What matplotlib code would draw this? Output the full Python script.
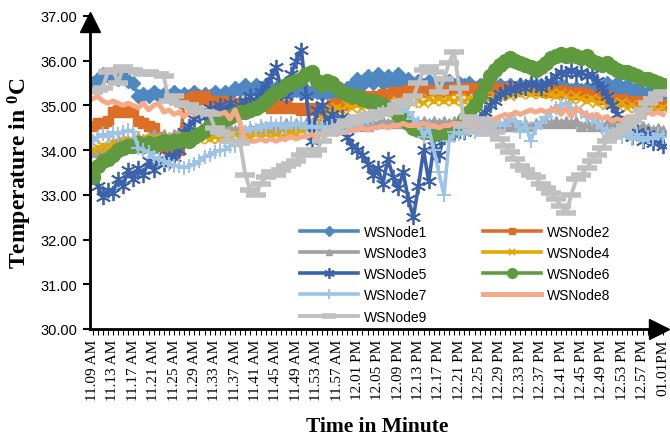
import matplotlib
matplotlib.use("Agg")
import matplotlib.pyplot as plt
from matplotlib.transforms import ScaledTranslation

# one reading per minute, 11.09 AM .. 01.01 PM
tick_labels = ["11.09 AM", "11.13 AM", "11.17 AM", "11.21 AM", "11.25 AM",
               "11.29 AM", "11.33 AM", "11.37 AM", "11.41 AM", "11.45 AM",
               "11.49 AM", "11.53 AM", "11.57 AM", "12.01 PM", "12.05 PM",
               "12.09 PM", "12.13 PM", "12.17 PM", "12.21 PM", "12.25 PM",
               "12.29 PM", "12.33 PM", "12.37 PM", "12.41 PM", "12.45 PM",
               "12.49 PM", "12.53 PM", "12.57 PM", "01.01PM"]

node1 = [35.50, 35.60, 35.70, 35.65, 35.70, 35.60, 35.70, 35.55,
         35.50, 35.20, 35.25, 35.20, 35.30, 35.20, 35.25, 35.20,
         35.30, 35.20, 35.25, 35.20, 35.30, 35.20, 35.25, 35.20,
         35.30, 35.20, 35.30, 35.25, 35.40, 35.35, 35.45, 35.35,
         35.45, 35.35, 35.45, 35.35, 35.40, 35.30, 35.40, 35.30,
         35.35, 35.30, 35.35, 35.30, 35.30, 35.25, 35.30, 35.25,
         35.30, 35.35, 35.40, 35.45, 35.60, 35.45, 35.65, 35.50,
         35.70, 35.50, 35.65, 35.45, 35.70, 35.50, 35.60, 35.45,
         35.55, 35.45, 35.55, 35.45, 35.50, 35.45, 35.55, 35.45,
         35.50, 35.45, 35.50, 35.40, 35.45, 35.40, 35.45, 35.40,
         35.45, 35.40, 35.45, 35.40, 35.45, 35.40, 35.45, 35.40,
         35.45, 35.40, 35.45, 35.40, 35.45, 35.40, 35.35, 35.40,
         35.35, 35.40, 35.35, 35.45, 35.30, 35.50, 35.35, 35.50,
         35.30, 35.45, 35.30, 35.40, 35.25, 35.30, 35.20, 35.25,
         35.20]

node2 = [34.55, 34.60, 34.60, 34.65, 34.85, 34.90, 34.85, 34.90,
         34.85, 34.65, 34.60, 34.55, 34.50, 34.30, 34.05, 33.95,
         33.90, 34.00, 35.05, 35.15, 35.20, 35.15, 35.20, 35.10,
         35.10, 35.05, 35.10, 35.05, 35.00, 35.05, 35.00, 35.05,
         35.00, 35.05, 35.00, 34.95, 35.00, 34.95, 35.00, 34.95,
         34.95, 34.90, 34.95, 34.90, 34.95, 34.90, 34.95, 35.00,
         35.05, 35.00, 35.05, 35.10, 35.10, 35.15, 35.20, 35.15,
         35.20, 35.25, 35.25, 35.30, 35.30, 35.30, 35.35, 35.30,
         35.35, 35.30, 35.35, 35.35, 35.30, 35.35, 35.35, 35.40,
         35.40, 35.35, 35.40, 35.40, 35.35, 35.40, 35.35, 35.40,
         35.40, 35.35, 35.40, 35.35, 35.40, 35.40, 35.35, 35.35,
         35.35, 35.30, 35.35, 35.30, 35.35, 35.30, 35.30, 35.25,
         35.30, 35.25, 35.20, 35.20, 35.15, 35.20, 35.15, 35.10,
         35.15, 35.10, 35.10, 35.05, 35.10, 35.05, 35.00, 35.05,
         35.00]

node3 = [33.95, 34.00, 34.05, 34.10, 34.15, 34.20, 34.25, 34.20,
         34.25, 34.30, 34.25, 34.30, 34.35, 34.30, 34.35, 34.30,
         34.35, 34.40, 34.35, 34.40, 34.45, 34.40, 34.45, 34.40,
         34.45, 34.50, 34.45, 34.50, 34.45, 34.50, 34.45, 34.50,
         34.50, 34.55, 34.50, 34.55, 34.50, 34.55, 34.60, 34.55,
         34.60, 34.55, 34.60, 34.55, 34.60, 34.55, 34.60, 34.55,
         34.60, 34.55, 34.60, 34.60, 34.55, 34.60, 34.55, 34.60,
         34.60, 34.65, 34.60, 34.65, 34.60, 34.65, 34.60, 34.65,
         34.60, 34.65, 34.60, 34.65, 34.60, 34.65, 34.60, 34.65,
         34.60, 34.65, 34.60, 34.60, 34.55, 34.60, 34.55, 34.60,
         34.55, 34.60, 34.55, 34.60, 34.55, 34.60, 34.55, 34.60,
         34.60, 34.65, 34.60, 34.65, 34.60, 34.65, 34.60, 34.65,
         34.55, 34.60, 34.55, 34.60, 34.55, 34.60, 34.60, 34.60,
         34.55, 34.50, 34.55, 34.50, 34.55, 34.50, 34.45, 34.50,
         34.45]

node4 = [34.00, 34.05, 34.10, 34.05, 34.15, 34.10, 34.20, 34.15,
         34.20, 34.15, 34.25, 34.20, 34.25, 34.20, 34.25, 34.20,
         34.25, 34.20, 34.30, 34.25, 34.30, 34.25, 34.30, 34.25,
         34.30, 34.25, 34.30, 34.25, 34.35, 34.30, 34.35, 34.30,
         34.35, 34.30, 34.35, 34.30, 34.35, 34.30, 34.35, 34.40,
         34.35, 34.45, 34.50, 34.55, 34.60, 34.70, 34.85, 34.90,
         34.95, 34.90, 35.00, 34.95, 35.00, 34.95, 35.05, 35.00,
         35.05, 35.00, 35.05, 35.00, 35.10, 35.05, 35.10, 35.05,
         35.10, 35.05, 35.15, 35.10, 35.15, 35.10, 35.15, 35.10,
         35.15, 35.10, 35.15, 35.10, 35.15, 35.20, 35.15, 35.20,
         35.20, 35.25, 35.20, 35.30, 35.25, 35.30, 35.25, 35.30,
         35.25, 35.30, 35.25, 35.20, 35.25, 35.20, 35.15, 35.20,
         35.15, 35.10, 35.15, 35.05, 35.10, 35.00, 35.05, 35.00,
         35.05, 34.95, 35.00, 34.95, 35.00, 34.90, 34.95, 34.90,
         34.95]

node5 = [33.50, 33.20, 32.95, 33.10, 33.05, 33.35, 33.20, 33.55,
         33.35, 33.60, 33.45, 33.75, 33.55, 33.80, 33.70, 33.90,
         33.85, 34.00, 34.40, 34.55, 34.70, 34.85, 34.75, 34.95,
         34.80, 35.00, 34.85, 35.05, 34.85, 35.00, 35.10, 35.20,
         35.10, 35.30, 35.45, 35.65, 35.85, 35.40, 35.20, 35.70,
         36.00, 36.25, 35.20, 34.20, 34.90, 35.00, 34.60, 34.80,
         34.55, 34.75, 34.30, 34.10, 34.00, 33.90, 33.70, 33.45,
         33.60, 33.25, 33.80, 33.40, 33.15, 33.50, 32.90, 32.50,
         33.20, 34.00, 33.30, 34.10, 33.90, 34.30, 34.40, 34.35,
         34.45, 34.40, 34.55, 34.50, 34.70, 34.85, 35.00, 35.10,
         35.25, 35.30, 35.40, 35.35, 35.45, 35.40, 35.50, 35.45,
         35.40, 35.50, 35.55, 35.65, 35.75, 35.70, 35.80, 35.70,
         35.75, 35.65, 35.70, 35.55, 35.40, 35.20, 35.00, 34.80,
         34.60, 34.45, 34.30, 34.40, 34.20, 34.35, 34.15, 34.25,
         34.10]

node6 = [33.40, 33.65, 33.75, 33.80, 33.90, 34.00, 34.05, 34.10,
         34.10, 34.15, 34.10, 34.15, 34.10, 34.15, 34.20, 34.15,
         34.20, 34.20, 34.25, 34.20, 34.30, 34.35, 34.45, 34.55,
         34.60, 34.65, 34.70, 34.75, 34.80, 34.85, 34.85, 34.90,
         34.95, 35.00, 35.10, 35.20, 35.30, 35.35, 35.45, 35.50,
         35.55, 35.60, 35.70, 35.75, 35.55, 35.45, 35.55, 35.50,
         35.40, 35.30, 35.25, 35.20, 35.20, 35.15, 35.10, 35.10,
         35.05, 35.00, 34.95, 34.90, 34.80, 34.70, 34.60, 34.50,
         34.45, 34.40, 34.40, 34.35, 34.40, 34.35, 34.40, 34.45,
         34.55, 34.70, 34.85, 35.00, 35.20, 35.45, 35.65, 35.80,
         35.90, 36.00, 36.05, 36.00, 35.95, 35.90, 35.85, 35.80,
         35.85, 35.95, 36.05, 36.10, 36.15, 36.10, 36.15, 36.10,
         36.05, 36.10, 36.00, 35.95, 35.90, 35.95, 35.85, 35.80,
         35.75, 35.75, 35.70, 35.65, 35.60, 35.60, 35.55, 35.50,
         35.45]

node7 = [34.20, 34.30, 34.35, 34.30, 34.40, 34.35, 34.40, 34.45,
         34.40, 34.05, 34.00, 33.95, 33.85, 33.80, 33.75, 33.70,
         33.65, 33.65, 33.60, 33.65, 33.70, 33.75, 33.85, 33.90,
         33.95, 34.00, 34.00, 34.10, 34.10, 34.20, 34.40, 34.50,
         34.45, 34.55, 34.50, 34.60, 34.55, 34.60, 34.50, 34.60,
         34.55, 34.60, 34.50, 34.55, 34.50, 34.55, 34.50, 34.55,
         34.50, 34.55, 34.60, 34.55, 34.65, 34.60, 34.70, 34.75,
         34.80, 34.85, 34.90, 34.95, 35.00, 34.95, 34.85, 34.70,
         34.60, 34.30, 34.50, 34.00, 33.50, 33.00, 34.20, 34.40,
         34.35, 34.40, 34.45, 34.40, 34.50, 34.45, 34.50, 34.55,
         34.60, 34.55, 34.70, 34.65, 34.40, 34.60, 34.20, 34.50,
         34.60, 34.75, 34.85, 34.95, 35.00, 35.05, 34.95, 34.90,
         34.85, 34.75, 34.70, 34.60, 34.50, 34.40, 34.35, 34.45,
         34.30, 34.40, 34.25, 34.35, 34.20, 34.30, 34.25, 34.35,
         34.30]

node8 = [35.15, 35.20, 35.10, 35.05, 35.10, 35.05, 35.00, 35.05,
         35.00, 34.95, 35.05, 34.90, 35.00, 35.05, 34.85, 34.90,
         34.80, 34.85, 34.75, 34.85, 34.80, 34.85, 34.80, 34.85,
         34.85, 34.80, 34.85, 34.70, 34.90, 34.60, 34.20, 34.20,
         34.20, 34.25, 34.20, 34.25, 34.20, 34.25, 34.25, 34.30,
         34.25, 34.30, 34.30, 34.35, 34.30, 34.35, 34.35, 34.40,
         34.35, 34.40, 34.40, 34.45, 34.45, 34.50, 34.45, 34.50,
         34.50, 34.55, 34.50, 34.55, 34.55, 34.60, 34.55, 34.55,
         34.55, 34.60, 34.55, 34.55, 34.50, 34.55, 34.55, 34.60,
         34.60, 34.55, 34.60, 34.60, 34.55, 34.60, 34.65, 34.70,
         34.75, 34.80, 34.75, 34.85, 34.80, 34.85, 34.90, 34.85,
         34.90, 34.85, 34.90, 34.95, 34.80, 34.95, 34.75, 34.95,
         34.85, 34.80, 34.75, 34.80, 34.70, 34.75, 34.65, 34.70,
         34.65, 34.75, 34.70, 34.80, 34.75, 34.85, 34.80, 34.85,
         34.80]

node9 = [35.30, 35.35, 35.40, 35.75, 35.80, 35.50, 35.85, 35.80,
         35.80, 35.75, 35.70, 35.75, 35.70, 35.70, 35.65, 35.10,
         35.20, 35.05, 35.00, 35.00, 34.95, 34.85, 34.85, 34.80,
         34.50, 34.40, 34.35, 34.20, 34.20, 34.15, 33.45, 33.10,
         33.00, 33.25, 33.40, 33.50, 33.45, 33.55, 33.65, 33.70,
         33.75, 33.90, 34.00, 33.90, 34.00, 34.20, 34.35, 34.45,
         34.40, 34.55, 34.65, 34.60, 34.75, 34.70, 34.80, 34.75,
         34.85, 34.80, 34.90, 34.85, 35.00, 35.10, 35.05, 35.20,
         35.50, 35.80, 35.85, 35.75, 35.30, 35.60, 35.95, 36.20,
         35.40, 34.55, 34.75, 34.40, 34.70, 34.35, 34.60, 34.40,
         34.25, 34.10, 33.95, 33.80, 33.65, 33.55, 33.45, 33.40,
         33.25, 33.15, 33.05, 32.90, 32.75, 32.60, 33.00, 33.35,
         33.45, 33.60, 33.75, 33.90, 34.05, 34.20, 34.30, 34.40,
         34.45, 34.55, 34.65, 34.75, 34.90, 35.05, 35.15, 35.25,
         35.30]

names = ["WSNode1", "WSNode2", "WSNode3", "WSNode4", "WSNode5",
         "WSNode6", "WSNode7", "WSNode8", "WSNode9"]
series = [node1, node2, node3, node4, node5, node6, node7, node8, node9]

colors = ["#4F88C0", "#DD6E26", "#A0A0A0", "#E6A700", "#3C62AC",
          "#5F9A3F", "#9DC3E6", "#F4A988", "#C0C0C0"]
markers = ["D", "s", "^", "x", (6, 2, 0), "o", "+", None, "_"]
msizes = [7, 7, 7, 7, 11, 10, 10, 0, 14]
mews = [1, 1, 1, 1.3, 1.3, 1, 1.4, 1, 4]
widths = [2.6, 2.6, 2.6, 2.6, 2.6, 2.6, 2.6, 3.6, 2.8]


def main():
    fig = plt.figure(figsize=(6.7, 4.39), dpi=100)
    ax = fig.add_axes([0.1343, 0.2483, 0.859, 0.713])

    n = len(node1)
    xs = list(range(n))
    handles = []
    for vals, name, c, m, ms, mew, lw in zip(series, names, colors, markers,
                                             msizes, mews, widths):
        h, = ax.plot(xs, vals, color=c, lw=lw, marker=m, ms=ms, mew=mew,
                     mec=c, mfc=c, label=name)
        handles.append(h)

    ax.set_xlim(-0.5, n - 0.5)
    ax.set_ylim(30, 37)

    ax.set_yticks(range(30, 38))
    ax.set_yticklabels([f"{v:.2f}" for v in range(30, 38)],
                       family="Liberation Sans", fontsize=10.5)
    ax.set_xticks(range(0, n, 4))
    ax.set_xticklabels(tick_labels, rotation=90, family="Liberation Serif",
                       fontsize=11)
    ax.set_xticks(range(n), minor=True)
    ax.tick_params(axis="x", which="both", length=4, width=0.8,
                   direction="out", pad=3)
    ax.tick_params(axis="y", length=5, width=1.5, direction="out", pad=4)

    for side in ["top", "right"]:
        ax.spines[side].set_visible(False)
    for side in ["left", "bottom"]:
        ax.spines[side].set_linewidth(2)

    # arrow heads on both axes
    up = ax.transAxes + ScaledTranslation(0, -0.065, fig.dpi_scale_trans)
    ax.plot([0], [1], marker="^", ms=14, color="k", transform=up,
            clip_on=False)
    right = ax.transAxes + ScaledTranslation(-0.07, 0, fig.dpi_scale_trans)
    ax.plot([1], [0], marker=">", ms=15, color="k", transform=right,
            clip_on=False)

    fig.text(0.03, 0.606, r"Temperature in $\mathregular{^{0}}$C",
             rotation=90, ha="center", va="center", family="Liberation Serif",
             fontweight="bold", fontsize=17)
    fig.text(0.5627, 0.027, "Time in Minute", ha="center", va="center",
             family="Liberation Serif", fontweight="bold", fontsize=15.5)

    order = [0, 2, 4, 6, 8, 1, 3, 5, 7]
    ax.legend([handles[i] for i in order], [names[i] for i in order],
              ncol=2, loc="upper left", bbox_to_anchor=(0.448, 0.486),
              bbox_transform=fig.transFigure, frameon=False,
              prop={"family": "Liberation Sans", "size": 10},
              handlelength=4.2, handletextpad=0.4, columnspacing=4.0,
              labelspacing=0.52, borderpad=0, borderaxespad=0, numpoints=1,
              markerscale=0.7)

    fig.savefig("out.png", dpi=100)


if __name__ == "__main__":
    main()
